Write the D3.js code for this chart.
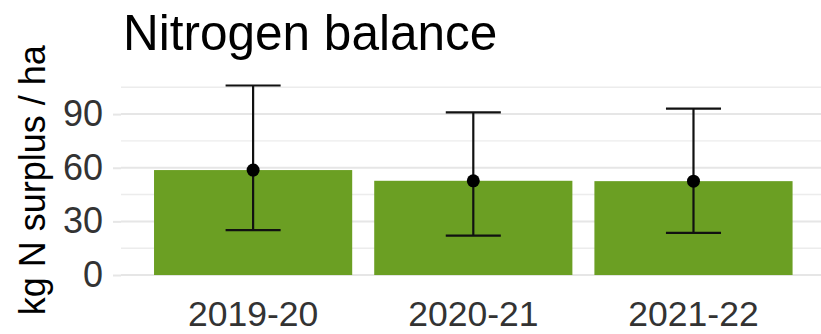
<!DOCTYPE html>
<html>
<head>
<meta charset="utf-8">
<script src="https://cdn.jsdelivr.net/npm/d3@7"></script>
<style>
  html, body { margin: 0; padding: 0; background: #fff; }
  svg { display: block; font-family: "Liberation Sans", Arial, Helvetica, sans-serif; }
</style>
</head>
<body>
<svg id="chart" width="821" height="334"></svg>
<script>
// Nitrogen surplus per season: mean with lower / upper range
const seasons = ["2019-20", "2020-21", "2021-22"];
const meanSurplus = [58.7, 52.7, 52.5];
const lowerSurplus = [25.1, 22.0, 23.6];
const upperSurplus = [106, 91, 93];
const majorTicks = [0, 30, 60, 90];
const minorTicks = [15, 45, 75, 105];

const svg = d3.select("#chart");
const W = 821, H = 334;
const panel = { left: 121, right: 825.6, top: 76, bottom: 284.5 };

// Discrete x axis: bars take 90% of each step, 0.6 step of room at each end
const x = d3.scaleBand()
  .domain(seasons)
  .range([panel.left, panel.right])
  .paddingInner(0.1)
  .paddingOuter(0.15);

// Continuous y axis from zero, expanded by 5% of the data range on both sides
const yMax = d3.max(upperSurplus);
const pad = yMax * 0.05;
const y = d3.scaleLinear()
  .domain([-pad, yMax + pad])
  .range([panel.bottom, panel.top]);

const grid = svg.append("g");
grid.selectAll("line.minor")
  .data(minorTicks)
  .join("line")
  .attr("class", "minor")
  .attr("x1", panel.left).attr("x2", W)
  .attr("y1", d => y(d)).attr("y2", d => y(d))
  .attr("stroke", "#ececec").attr("stroke-width", 1.4);
grid.selectAll("line.major")
  .data(majorTicks)
  .join("line")
  .attr("class", "major")
  .attr("x1", panel.left).attr("x2", W)
  .attr("y1", d => y(d)).attr("y2", d => y(d))
  .attr("stroke", "#e6e6e6").attr("stroke-width", 2);

// y axis: grey ticks and labels
const yAxis = svg.append("g")
  .attr("transform", `translate(${panel.left},0)`)
  .call(d3.axisLeft(y).tickValues(majorTicks).tickSize(8).tickPadding(10));
yAxis.select(".domain").remove();
yAxis.selectAll(".tick line").attr("stroke", "#e6e6e6").attr("stroke-width", 2);
yAxis.selectAll(".tick text")
  .attr("font-size", 36)
  .attr("fill", "#333")
  .attr("font-family", "Liberation Sans, Arial, sans-serif");

// x axis labels
const xAxis = svg.append("g")
  .attr("transform", `translate(0,${panel.bottom})`)
  .call(d3.axisBottom(x).tickSize(0).tickPadding(0));
xAxis.select(".domain").remove();
xAxis.selectAll(".tick text")
  .attr("font-size", 35.5)
  .attr("fill", "#333")
  .attr("dy", null)
  .attr("y", 41.8)
  .attr("font-family", "Liberation Sans, Arial, sans-serif");

const rows = seasons.map((s, i) => ({
  season: s, mean: meanSurplus[i], lo: lowerSurplus[i], hi: upperSurplus[i]
}));

// bars
svg.append("g").selectAll("rect")
  .data(rows)
  .join("rect")
  .attr("x", d => x(d.season))
  .attr("width", x.bandwidth())
  .attr("y", d => y(d.mean))
  .attr("height", d => y(0) - y(d.mean))
  .attr("fill", "#6b9f23");

// error bars
const capHalf = x.step() * 0.125;
const eb = svg.append("g").attr("stroke", "#111").attr("stroke-width", 2.2);
const cx = d => x(d.season) + x.bandwidth() / 2;
eb.selectAll("line.v").data(rows).join("line")
  .attr("class", "v")
  .attr("x1", cx).attr("x2", cx)
  .attr("y1", d => y(d.lo)).attr("y2", d => y(d.hi));
eb.selectAll("line.top").data(rows).join("line")
  .attr("class", "top")
  .attr("x1", d => cx(d) - capHalf).attr("x2", d => cx(d) + capHalf)
  .attr("y1", d => y(d.hi)).attr("y2", d => y(d.hi));
eb.selectAll("line.bot").data(rows).join("line")
  .attr("class", "bot")
  .attr("x1", d => cx(d) - capHalf).attr("x2", d => cx(d) + capHalf)
  .attr("y1", d => y(d.lo)).attr("y2", d => y(d.lo));

// mean points
svg.append("g").selectAll("circle")
  .data(rows)
  .join("circle")
  .attr("cx", cx)
  .attr("cy", d => y(d.mean))
  .attr("r", 6.5)
  .attr("fill", "#000");

// title
svg.append("text")
  .attr("x", 123)
  .attr("y", 50)
  .attr("font-size", 49.5)
  .attr("fill", "#000")
  .text("Nitrogen balance");

// y axis title
svg.append("text")
  .attr("transform", `translate(45,${(panel.top + panel.bottom) / 2}) rotate(-90)`)
  .attr("text-anchor", "middle")
  .attr("font-size", 36)
  .attr("fill", "#000")
  .text("kg N surplus / ha");
</script>
</body>
</html>
